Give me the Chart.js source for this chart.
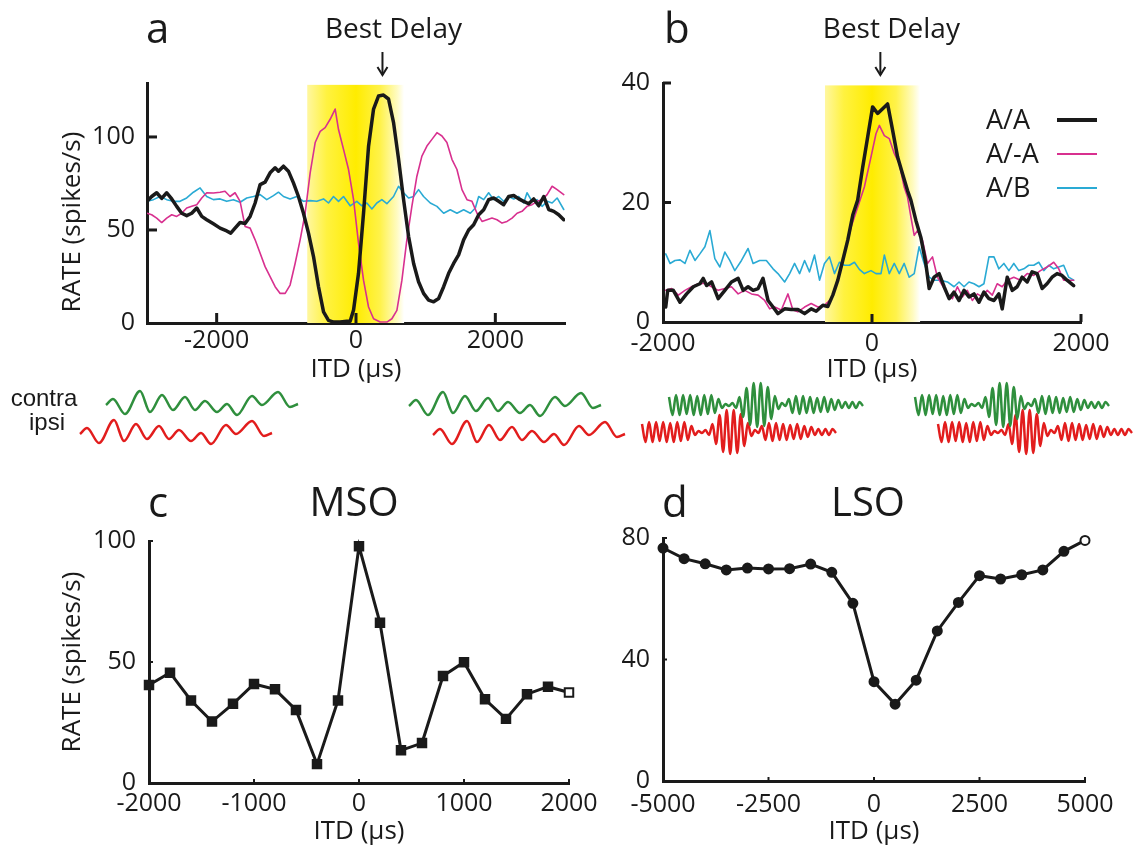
<!DOCTYPE html>
<html><head><meta charset="utf-8">
<script src="https://cdn.jsdelivr.net/npm/chart.js@4.4.0/dist/chart.umd.min.js"></script>
<style>
html,body{margin:0;padding:0;background:#fff;}
#wrap{position:relative;width:1138px;height:859px;overflow:hidden;background:#fff;}
canvas{position:absolute;}
</style></head><body><div id="wrap">
<canvas id="ca" width="600" height="385" style="left:0;top:0;width:600px;height:385px"></canvas>
<canvas id="cb" width="538" height="385" style="left:600px;top:0;width:538px;height:385px"></canvas>
<canvas id="cc" width="610" height="389" style="left:0;top:470px;width:610px;height:389px"></canvas>
<canvas id="cd" width="538" height="389" style="left:600px;top:470px;width:538px;height:389px"></canvas>
<canvas id="cw" width="1138" height="95" style="left:0;top:375px;width:1138px;height:95px"></canvas>
</div>
<script>
// ---------------- DATA ----------------
const seriesLabels = ['A/A', 'A/-A', 'A/B'];

// panel a (ITD in µs, rate in spikes/s)
const itdA_AA = [-3000,-2933,-2861,-2789,-2717,-2645,-2574,-2502,-2430,-2358,
-2286,-2214,-2143,-2047,-1951,-1856,-1798,-1736,-1664,-1592,
-1520,-1448,-1376,-1305,-1233,-1161,-1113,-1041,-970,-898,
-826,-754,-682,-610,-538,-466,-395,-323,-227,-131,
-84,-35,36,108,180,252,323,395,467,539,
611,683,755,827,898,970,1042,1114,1186,1258,
1330,1401,1473,1545,1617,1689,1761,1833,1904,1976,
2048,2120,2192,2264,2336,2407,2479,2551,2623,2695,
2767,2839,2910,2982];
const rateA_AA = [65.4,68,70,67,70,66.7,62.7,59,57.7,59,
61.8,57.3,55.5,53.3,51,49.5,48.3,51,54,53.5,
57.3,64.5,74.4,75.7,80.7,83.4,81.6,84.3,81.6,75.3,
68,59,48.3,35.7,19.5,6,1.4,0.5,0.5,1,
1,7,26.7,59,95,115,122,122.5,120.4,107.7,
88,66.3,46.5,32,22.2,15.9,12.3,11.4,13.2,19.5,
26.7,32,36.6,44.7,50,52.8,58.2,60.9,66.3,67.2,
65.4,63.6,68,68.5,66.7,65.4,64.1,66.7,63,68,
61,60,58.2,55.5];
const itdA_AnA = [-3000,-2933,-2861,-2789,-2717,-2645,-2574,-2502,-2430,-2358,
-2286,-2214,-2143,-2047,-1951,-1880,-1808,-1736,-1664,-1592,
-1520,-1448,-1376,-1305,-1233,-1161,-1089,-1017,-946,-874,
-802,-730,-658,-586,-514,-443,-371,-299,-251,-179,
-107,-35,36,108,180,252,347,443,515,587,
659,730,802,874,946,1018,1090,1162,1234,1305,
1377,1449,1521,1593,1665,1737,1809,1880,1952,2024,
2096,2168,2240,2312,2383,2455,2527,2599,2671,2743,
2815,2887,2982];
const rateA_AnA = [59,58.2,56.4,54,56.4,58.2,57.3,59,61.8,62.7,
63.6,67.2,70,69.9,70.3,70.8,68,70,65.4,51.9,
51,44.7,37.5,30.3,24.9,19.5,15.9,15.9,20.4,32,
44.7,59,80.7,97,103,105,109.5,115,104,93.3,
82.5,66.3,42.9,23,8.6,2.3,0.5,0.5,2.3,6.8,
23,44.7,62.7,78.9,89.7,95.1,98.7,102.3,100.5,97,
88,82.5,71.7,66.3,65.4,59,54.6,55.5,56.4,55.5,
53.7,54.6,56.4,59,60,62.7,63.6,65.4,66.3,69,
73.5,71.7,69];
const itdA_AB = [-3000,-2908,-2813,-2717,-2621,-2526,-2430,-2334,-2238,-2143,
-2047,-1951,-1856,-1760,-1664,-1568,-1472,-1376,-1281,-1185,
-1113,-1041,-946,-850,-754,-658,-562,-466,-395,-323,
-251,-179,-84,12,84,156,228,299,371,443,
539,611,683,755,827,898,970,1066,1162,1258,
1353,1449,1545,1641,1713,1761,1833,1904,1976,2048,
2120,2192,2264,2336,2407,2455,2527,2599,2671,2743,
2815,2887,2982];
const rateA_AB = [65.4,66.3,68,66.3,65.4,65.4,67.2,70.3,72.6,68,
66.3,66.7,65.4,66.3,64.9,67.2,68,69,66.3,68.5,
70.3,68,66.7,68,65.4,65.8,65.4,66.7,64.5,68,
65.4,68,63,65.4,63,64.5,61.3,64.5,66.3,64.1,
68,73.5,70,67.2,68,71.7,68,64.5,62.7,59,
60.9,59,60.9,59,61.8,68,66.3,70,66.3,68,
65.4,68,66.7,68,64.5,70,65.4,66.3,62.7,65.4,
64.5,67.2,61];

// panel b
const itdB_AA = [-1974,-1955,-1901,-1837,-1774,-1710,-1647,-1615,-1583,-1535,
-1472,-1408,-1345,-1281,-1233,-1186,-1138,-1090,-1043,-995,
-947,-900,-836,-773,-709,-645,-582,-534,-470,-423,
-375,-327,-280,-232,-184,-137,-89,-41,6,54,
102,149,197,245,292,340,372,420,467,515,
547,594,642,690,738,785,833,881,928,976,
1024,1071,1119,1167,1214,1246,1294,1342,1389,1437,
1485,1532,1580,1628,1675,1723,1771,1818,1866,1930];
const rateB_AA = [2.5,5.3,5.3,3.3,4.7,5.9,6.4,7.3,6.1,6.7,
3.9,5.3,6.7,7.3,5.3,5.9,5.3,5.6,7.3,3.6,
2.5,1.4,2.2,2.1,2.1,1.4,2.2,1.8,2.8,2.6,
4.5,7.0,10.3,13.7,17.9,20.4,25.9,31.0,36.0,34.9,
35.7,36.5,32.1,27.6,24.8,22.0,20.4,17.0,14.2,9.8,
5.6,7.5,8.1,5.9,3.9,5.0,3.6,5.3,4.2,4.7,
3.3,5.0,3.9,3.6,4.7,2.2,7.5,5.3,5.9,7.5,
6.7,8.4,8.1,5.6,6.4,7.5,8.1,7.8,7.0,6.1];
const itdB_AnA = [-1974,-1917,-1853,-1790,-1726,-1663,-1599,-1535,-1472,-1408,
-1345,-1281,-1218,-1154,-1090,-1027,-979,-931,-868,-804,
-757,-709,-645,-582,-518,-455,-391,-327,-264,-200,
-137,-73,-10,38,70,118,165,213,261,308,
340,372,404,436,483,531,579,626,674,722,
769,817,865,912,960,1008,1055,1103,1151,1198,
1246,1294,1357,1421,1485,1548,1612,1675,1739,1787,
1834,1930];
const rateB_AnA = [5.3,5.6,4.5,5.3,5.9,6.4,6.5,5.9,5.3,5.6,
5.9,4.7,5.3,4.7,4.5,3.6,2.2,2.5,2.0,4.7,
2.0,1.7,2.5,3.1,2.5,2.8,3.9,7.0,11.4,15.9,
19.2,22.6,27.6,31.5,32.9,31.2,30.7,28.2,26.5,22.6,
20.9,17.6,14.5,15.3,13.7,9.8,10.9,7.5,6.1,4.7,
3.9,5.9,4.2,5.3,3.6,4.7,4.2,5.3,4.5,6.4,
5.9,7.0,7.5,7.0,8.1,7.8,8.6,9.2,10.0,8.9,
7.0,7.0];
const itdB_AB = [-1974,-1933,-1885,-1837,-1790,-1742,-1694,-1647,-1599,-1551,
-1504,-1456,-1408,-1361,-1313,-1249,-1186,-1138,-1075,-1011,
-947,-900,-836,-788,-741,-693,-645,-598,-550,-502,
-455,-407,-359,-312,-264,-216,-168,-121,-73,-10,
38,86,118,165,213,261,308,356,404,451,
499,547,594,658,722,785,833,881,928,976,
1024,1071,1119,1167,1214,1262,1310,1357,1405,1453,
1500,1548,1596,1644,1691,1739,1787,1834,1882,1930];
const rateB_AB = [11.4,9.8,10.3,10.4,9.8,12.0,10.3,11.4,12.6,15.3,
10.6,9.2,11.7,10.3,8.6,10.3,12.3,9.8,10.3,10.3,
8.9,8.1,6.7,8.1,9.8,8.1,10.3,8.4,11.2,7.0,
9.8,10.9,8.1,10.0,9.5,9.5,10.0,8.8,8.1,8.6,
8.1,8.1,11.2,8.1,9.8,8.1,9.8,7.5,8.1,12.6,
9.8,7.5,7.0,7.0,6.7,5.9,6.7,5.9,6.7,6.4,
5.9,6.4,10.9,10.9,8.9,9.8,8.6,9.8,8.6,8.9,
9.5,9.5,10.0,8.6,9.5,8.9,9.2,9.5,7.5,7.0];

// panel c (MSO)
const itdC = [-2000,-1800,-1600,-1400,-1200,-1000,-800,-600,-400,-200,0,200,400,600,800,1000,1200,1400,1600,1800,2000];
const rateC = [40.5,45.6,34.1,25.4,32.7,40.9,38.7,30.2,7.8,34.1,97.8,66.2,13.5,16.5,44.2,49.9,34.6,26.5,36.7,39.8,37.4];

// panel d (LSO)
const itdD = [-5000,-4500,-4000,-3500,-3000,-2500,-2000,-1500,-1000,-500,0,500,1000,1500,2000,2500,3000,3500,4000,4500,5000];
const rateD = [76.7,73.2,71.5,69.5,70.1,69.8,69.9,71.4,68.7,58.5,32.7,25.3,33.2,49.4,58.8,67.6,66.5,67.9,69.5,75.6,79.2];

// tick labels
const ticksA_x = [-2000, 0, 2000], ticksA_y = [0, 50, 100];
const ticksB_x = [-2000, 0, 2000], ticksB_y = [0, 20, 40];
const ticksC_x = [-2000, -1000, 0, 1000, 2000], ticksC_y = [0, 50, 100];
const ticksD_x = [-5000, -2500, 0, 2500, 5000], ticksD_y = [0, 40, 80];

// shaded "best delay" region [from, to, top] and best delay
const bandA = [-700, 690, 128], bandB = [-450, 460, 39.6];
const bestDelayA = 380, bestDelayB = 80;

// stimulus waveform sketches (relative time / amplitude)
const toneT = [0, 7, 19, 34, 44, 56, 67, 79, 89, 99, 111, 121, 131, 146, 156, 172, 184, 192];
const toneA = [-2, 4, -11, 12, -9, 8, -7, 6, -7, 2, -9, -1, -12, 7, -2, 11, -4, -1];
const noiseA = [8,-10,10,-10,10,-9,10,-10,9,-10,10,-9,10,-8,6,-3,
  1,-1,2,-3,
  8,-12,17,-20,22,-22,22,-21,18,-14,9,-4,
  2,-1,
  6,-8,9,-9,9,-8,8,-8,7,-7,8,-7,6,-5,5,
  -3,3,-3,3,-3,3,-1];

// ---------------- STYLE / LAYOUT ----------------
const FONT = '"Open Sans", "DejaVu Sans", sans-serif';
const ARIAL = '"Liberation Sans", Arial, sans-serif';
const INK = '#1a1a1a';
const TICK_SIZE = 25, TITLE_SIZE = 26;
const COL = { AA: '#1a1a1a', AnA: '#d8308f', AB: '#2aaad4' };
const WAVE_COL = { contra: '#2f8f3d', ipsi: '#e21d1d' };
const wavePlacement = [
  { kind: 'tone', ear: 'contra', x: 106, y: 403 },
  { kind: 'tone', ear: 'ipsi', x: 80, y: 432 },
  { kind: 'tone', ear: 'contra', x: 409, y: 404 },
  { kind: 'tone', ear: 'ipsi', x: 433, y: 433 },
  { kind: 'noise', ear: 'contra', x: 669, y: 405 },
  { kind: 'noise', ear: 'ipsi', x: 642, y: 432 },
  { kind: 'noise', ear: 'contra', x: 915, y: 405 },
  { kind: 'noise', ear: 'ipsi', x: 938, y: 432 }
];
const NOISE_LEN = 194;

function pts(xs, ys) { return xs.map((x, i) => ({ x: x, y: ys[i] })); }

function txt(ctx, s, x, y, size, o) {
  o = o || {};
  ctx.save();
  ctx.font = size + 'px ' + (o.family || FONT);
  ctx.fillStyle = o.color || INK;
  ctx.textAlign = o.align || 'left';
  ctx.textBaseline = o.baseline || 'alphabetic';
  if (o.rotate) { ctx.translate(x, y); ctx.rotate(o.rotate); ctx.fillText(s, 0, 0); }
  else ctx.fillText(s, x, y);
  ctx.restore();
}

function inwardTicks(chart, xt, yt, len, w) {
  const ctx = chart.ctx, ca = chart.chartArea, sx = chart.scales.x, sy = chart.scales.y;
  ctx.save(); ctx.strokeStyle = INK; ctx.lineWidth = w;
  xt.forEach(v => { if (v === sx.min) return; const p = sx.getPixelForValue(v);
    ctx.beginPath(); ctx.moveTo(p, ca.bottom); ctx.lineTo(p, ca.bottom - len); ctx.stroke(); });
  yt.forEach(v => { if (v === sy.min) return; const p = sy.getPixelForValue(v);
    ctx.beginPath(); ctx.moveTo(ca.left, p); ctx.lineTo(ca.left + len, p); ctx.stroke(); });
  ctx.restore();
}

function drawBand(chart, band) {
  const ctx = chart.ctx, ca = chart.chartArea, sx = chart.scales.x, sy = chart.scales.y;
  const x1 = sx.getPixelForValue(band[0]), x2 = sx.getPixelForValue(band[1]), yt = sy.getPixelForValue(band[2]);
  const z = (sx.getPixelForValue(0) - x1) / (x2 - x1);
  const g = ctx.createLinearGradient(x1, 0, x2, 0);
  g.addColorStop(0, '#fff7a0');
  g.addColorStop(z * 0.4, '#fff240');
  g.addColorStop(z, '#ffec00');
  g.addColorStop(z + (1 - z) * 0.5, '#fff24a');
  g.addColorStop(z + (1 - z) * 0.85, '#fffbc0');
  g.addColorStop(1, '#ffffff');
  ctx.save(); ctx.fillStyle = g; ctx.fillRect(x1, yt, x2 - x1, ca.bottom - yt); ctx.restore();
}

function drawBestDelay(chart, val) {
  const ctx = chart.ctx, px = chart.scales.x.getPixelForValue(val);
  txt(ctx, 'Best Delay', px + 11, 38, 28, { align: 'center' });
  ctx.save(); ctx.strokeStyle = INK; ctx.lineWidth = 2;
  ctx.beginPath(); ctx.moveTo(px, 52); ctx.lineTo(px, 75); ctx.stroke();
  ctx.beginPath(); ctx.moveTo(px - 5, 67); ctx.lineTo(px, 75); ctx.lineTo(px + 5, 67); ctx.stroke();
  ctx.restore();
}

function panel(id, o) {
  return new Chart(document.getElementById(id), {
    type: 'line',
    data: { datasets: o.datasets },
    options: {
      responsive: false, animation: false, devicePixelRatio: 1, events: [],
      layout: { padding: { left: 0, top: o.padTop, right: o.padRight, bottom: 0 } },
      plugins: { legend: { display: false }, tooltip: { enabled: false } },
      elements: { line: { tension: 0 } },
      scales: {
        x: {
          type: 'linear', min: o.xMin, max: o.xMax,
          afterBuildTicks: s => { s.ticks = o.xTicks.map(v => ({ value: v })); },
          afterFit: s => { s.height = o.xH; },
          grid: { display: false, drawTicks: false },
          border: { display: true, color: INK, width: 3 },
          ticks: { color: INK, font: { family: FONT, size: TICK_SIZE }, padding: o.xPad, maxRotation: 0, autoSkip: false, callback: v => String(v) },
          title: { display: true, text: 'ITD (μs)', color: INK, font: { family: FONT, size: TITLE_SIZE }, padding: { top: 0, bottom: o.xTitlePad } }
        },
        y: {
          type: 'linear', min: o.yMin, max: o.yMax,
          afterBuildTicks: s => { s.ticks = o.yTicks.map(v => ({ value: v })); },
          afterFit: s => { s.width = o.yW; },
          grid: { display: false, drawTicks: false },
          border: { display: true, color: INK, width: 3 },
          ticks: { color: INK, font: { family: FONT, size: TICK_SIZE }, padding: o.yPad, autoSkip: false, callback: v => String(v) },
          title: o.yTitle ? { display: true, text: o.yTitle, color: INK, font: { family: FONT, size: TITLE_SIZE }, padding: { top: o.yTitlePad, bottom: 0 } } : { display: false }
        }
      }
    },
    plugins: [{
      id: 'extras_' + id,
      beforeDatasetsDraw: chart => { if (o.before) o.before(chart); },
      afterDraw: chart => { if (o.after) o.after(chart); }
    }]
  });
}

function lineDs(label, xs, ys, color, width) {
  return { label: label, data: pts(xs, ys), borderColor: color, backgroundColor: color, borderWidth: width,
    pointRadius: 0, borderJoinStyle: 'round', borderCapStyle: 'round', fill: false };
}

// ---------------- PANEL a ----------------
panel('ca', {
  datasets: [
    lineDs(seriesLabels[0], itdA_AA, rateA_AA, COL.AA, 3.5),
    lineDs(seriesLabels[1], itdA_AnA, rateA_AnA, COL.AnA, 1.6),
    lineDs(seriesLabels[2], itdA_AB, rateA_AB, COL.AB, 1.6)
  ],
  xMin: -3000, xMax: 3000, yMin: 0, yMax: 129, xTicks: ticksA_x, yTicks: ticksA_y,
  padTop: 83, padRight: 35, xH: 62, yW: 147, xPad: 3, yPad: 12, xTitlePad: 0,
  before: c => drawBand(c, bandA),
  after: c => {
    inwardTicks(c, ticksA_x, ticksA_y, 10, 3);
    drawBestDelay(c, bestDelayA);
    txt(c.ctx, 'a', 146, 43, 42);
    txt(c.ctx, 'RATE (spikes/s)', 73, 222, TITLE_SIZE, { align: 'center', baseline: 'middle', rotate: -Math.PI / 2 });
  }
});

// ---------------- PANEL b ----------------
panel('cb', {
  datasets: [
    lineDs(seriesLabels[0], itdB_AA, rateB_AA, COL.AA, 3.5),
    lineDs(seriesLabels[1], itdB_AnA, rateB_AnA, COL.AnA, 1.6),
    lineDs(seriesLabels[2], itdB_AB, rateB_AB, COL.AB, 1.6)
  ],
  xMin: -2000, xMax: 2000, yMin: 0, yMax: 40, xTicks: ticksB_x, yTicks: ticksB_y,
  padTop: 83, padRight: 57, xH: 63, yW: 63, xPad: 7, yPad: 13, xTitlePad: 0,
  before: c => drawBand(c, bandB),
  after: c => {
    inwardTicks(c, ticksB_x, ticksB_y, 8, 3);
    drawBestDelay(c, bestDelayB);
    txt(c.ctx, 'b', 64, 43, 42);
    const ctx = c.ctx;
    c.data.datasets.forEach((ds, i) => {
      const yy = 129 + i * 34;
      txt(ctx, ds.label, 386, yy, 27);
      ctx.save(); ctx.strokeStyle = ds.borderColor; ctx.lineWidth = ds.borderWidth === 3.5 ? 4 : 2;
      ctx.beginPath(); ctx.moveTo(457, yy - 9); ctx.lineTo(497, yy - 9); ctx.stroke(); ctx.restore();
    });
  }
});

// ---------------- PANEL c ----------------
panel('cc', {
  datasets: [{
    label: 'MSO', data: pts(itdC, rateC), borderColor: INK, borderWidth: 3, tension: 0,
    pointStyle: 'rect', pointRadius: 6,
    pointBackgroundColor: itdC.map((v, i) => i === itdC.length - 1 ? '#ffffff' : INK),
    pointBorderColor: INK, pointBorderWidth: 2, clip: false, fill: false
  }],
  xMin: -2000, xMax: 2000, yMin: 0, yMax: 100, xTicks: ticksC_x, yTicks: ticksC_y,
  padTop: 71, padRight: 41, xH: 76, yW: 149, xPad: 6, yPad: 13, xTitlePad: 12,
  yTitle: 'RATE (spikes/s)', yTitlePad: 57,
  after: c => {
    inwardTicks(c, ticksC_x, ticksC_y, 4, 2);
    txt(c.ctx, 'c', 148, 47, 42);
    txt(c.ctx, 'MSO', 354, 46, 40, { align: 'center' });
  }
});

// ---------------- PANEL d ----------------
panel('cd', {
  datasets: [{
    label: 'LSO', data: pts(itdD, rateD), borderColor: INK, borderWidth: 3, tension: 0,
    pointStyle: 'circle', pointRadius: 4.5,
    pointBackgroundColor: itdD.map((v, i) => i === itdD.length - 1 ? '#ffffff' : INK),
    pointBorderColor: INK, pointBorderWidth: 2, clip: false, fill: false
  }],
  xMin: -5000, xMax: 5000, yMin: 0, yMax: 80, xTicks: ticksD_x, yTicks: ticksD_y,
  padTop: 68, padRight: 53, xH: 78, yW: 63, xPad: 9, yPad: 13, xTitlePad: 12,
  after: c => {
    inwardTicks(c, ticksD_x, ticksD_y, 4, 2);
    txt(c.ctx, 'd', 62, 47, 42);
    txt(c.ctx, 'LSO', 268, 46, 40, { align: 'center' });
  }
});

// ---------------- stimulus sketches ----------------
const WAVE_TOP = 375, WAVE_H = 95;
function placeWave(p) {
  const base = WAVE_TOP + WAVE_H - p.y;
  if (p.kind === 'tone') return toneT.map((t, i) => ({ x: p.x + t, y: base + toneA[i] }));
  const step = NOISE_LEN / (noiseA.length - 1);
  return noiseA.map((a, i) => ({ x: p.x + i * step, y: base + a }));
}
new Chart(document.getElementById('cw'), {
  type: 'line',
  data: { datasets: wavePlacement.map(p => ({
    label: p.ear, data: placeWave(p), borderColor: WAVE_COL[p.ear], borderWidth: 2.5,
    pointRadius: 0, cubicInterpolationMode: 'monotone', fill: false, clip: false
  })) },
  options: {
    responsive: false, animation: false, devicePixelRatio: 1, events: [],
    layout: { padding: 0 },
    plugins: { legend: { display: false }, tooltip: { enabled: false } },
    scales: { x: { type: 'linear', display: false, min: 0, max: 1138 }, y: { display: false, min: 0, max: WAVE_H } }
  },
  plugins: [{ id: 'waveLabels', afterDraw: c => {
    txt(c.ctx, 'contra', 44, 31, 24, { align: 'center', family: ARIAL });
    txt(c.ctx, 'ipsi', 47, 55, 24, { align: 'center', family: ARIAL });
  } }]
});
</script>
</body></html>
